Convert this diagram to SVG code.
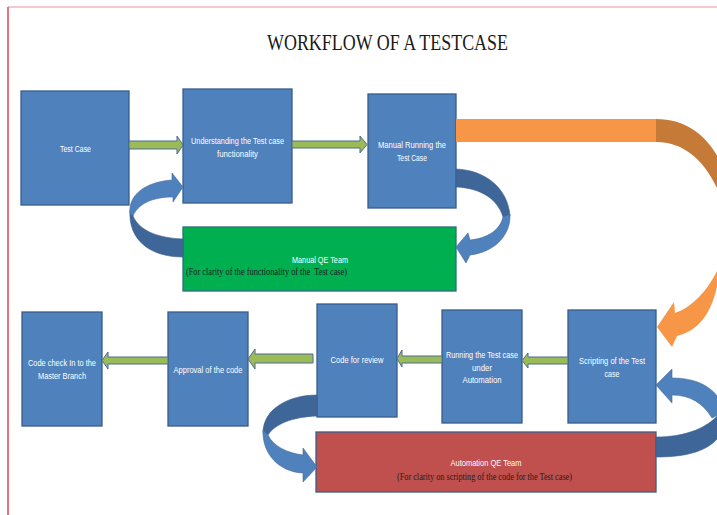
<svg xmlns="http://www.w3.org/2000/svg" width="717" height="515" viewBox="0 0 717 515">
<style>
.box{fill:#4F81BD;stroke:#385D8A;stroke-width:1.3}
.lbl{font-family:"Liberation Sans",Arial,sans-serif;font-size:8.5px;fill:#FFFFFF;text-anchor:middle}
.note{font-family:"Liberation Serif","Times New Roman",serif;font-size:9.5px;fill:#1E1E1E}
.garr{fill:#9BBB59;stroke:#4A6C93;stroke-width:1}
.cl{fill:#4F81BD;stroke:#44699A;stroke-width:0.6}
.cd{fill:#3E6699;stroke:#3A5F8C;stroke-width:0.6}
</style>
<rect x="0" y="0" width="717" height="515" fill="#FFFFFF"/>
<line x1="8" y1="7" x2="717" y2="7" stroke="#E8929E" stroke-width="1.2"/>
<line x1="8" y1="7" x2="8" y2="515" stroke="#E27485" stroke-width="2"/>
<text x="387.5" y="50" font-family="'Liberation Serif','Times New Roman',serif" font-size="24" fill="#1A1A1A" text-anchor="middle" textLength="241" lengthAdjust="spacingAndGlyphs">WORKFLOW OF A TESTCASE</text>

<g id="node-test-case">
<rect class="box" x="21" y="91" width="108" height="114"/>
<text class="lbl" x="75.5" y="152" textLength="31" lengthAdjust="spacingAndGlyphs">Test Case</text>
</g>
<g id="node-understanding">
<rect class="box" x="183" y="89" width="109" height="114"/>
<text class="lbl" x="237.5" y="144" textLength="93" lengthAdjust="spacingAndGlyphs">Understanding the Test case</text>
<text class="lbl" x="237.5" y="157" textLength="41" lengthAdjust="spacingAndGlyphs">functionality</text>
</g>
<g id="node-manual-running">
<rect class="box" x="368" y="94" width="88" height="114"/>
<text class="lbl" x="412" y="148" textLength="68" lengthAdjust="spacingAndGlyphs">Manual Running the</text>
<text class="lbl" x="412" y="161" textLength="30" lengthAdjust="spacingAndGlyphs">Test Case</text>
</g>
<g id="node-manual-qe-team">
<rect x="183" y="227" width="273" height="64" fill="#00B050" stroke="#2F6D84" stroke-width="1.3"/>
<text class="lbl" x="320" y="263" textLength="56" lengthAdjust="spacingAndGlyphs">Manual QE Team</text>
<text class="note" x="186" y="275" textLength="161" lengthAdjust="spacingAndGlyphs" xml:space="preserve">(For clarity of the functionality of the  Test case)</text>
</g>
<g id="node-scripting">
<rect class="box" x="568" y="310" width="88" height="113"/>
<text class="lbl" x="612" y="364" textLength="66" lengthAdjust="spacingAndGlyphs">Scripting of the Test</text>
<text class="lbl" x="612" y="377" textLength="15" lengthAdjust="spacingAndGlyphs">case</text>
</g>
<g id="node-running-automation">
<rect class="box" x="442" y="310" width="80" height="113"/>
<text class="lbl" x="482" y="358" textLength="72" lengthAdjust="spacingAndGlyphs">Running the Test case</text>
<text class="lbl" x="482" y="371" textLength="20" lengthAdjust="spacingAndGlyphs">under</text>
<text class="lbl" x="482" y="383" textLength="39" lengthAdjust="spacingAndGlyphs">Automation</text>
</g>
<g id="node-code-review">
<rect class="box" x="317" y="304" width="80" height="113"/>
<text class="lbl" x="357" y="363" textLength="53" lengthAdjust="spacingAndGlyphs">Code for review</text>
</g>
<g id="node-approval">
<rect class="box" x="168" y="312" width="80" height="114"/>
<text class="lbl" x="208" y="373" textLength="69" lengthAdjust="spacingAndGlyphs">Approval of the code</text>
</g>
<g id="node-code-checkin">
<rect class="box" x="22" y="312" width="80" height="114"/>
<text class="lbl" x="62" y="366" textLength="68" lengthAdjust="spacingAndGlyphs">Code check In to the</text>
<text class="lbl" x="62" y="379" textLength="48" lengthAdjust="spacingAndGlyphs">Master Branch</text>
</g>
<g id="node-automation-qe-team">
<rect x="316" y="432" width="340" height="60" fill="#C0504D" stroke="#385D8A" stroke-width="1.3"/>
<text class="lbl" x="486" y="466" textLength="71" lengthAdjust="spacingAndGlyphs">Automation QE Team</text>
<text class="note" x="484.5" y="480" text-anchor="middle" textLength="175" lengthAdjust="spacingAndGlyphs">(For clarity on scripting of the code for the Test case)</text>
</g>

<g id="connectors">
<!-- green straight arrows, top row -->
<path class="garr" d="M129,141 L177,141 L177,136 L183,145 L177,154 L177,149 L129,149 Z"/>
<path class="garr" d="M292,141 L360,141 L360,136 L367,144.5 L360,153 L360,148 L292,148 Z"/>
<!-- green straight arrows, bottom row (pointing left) -->
<path class="garr" d="M568,357 L528,357 L528,353 L522,360.5 L528,368 L528,364 L568,364 Z"/>
<path class="garr" d="M442,356 L402,356 L402,350 L397,358.5 L402,367 L402,363 L442,363 Z"/>
<path class="garr" d="M313,354 L255,354 L255,349 L248,359 L255,369 L255,363 L313,363 Z"/>
<path class="garr" d="M168,357 L108,357 L108,352 L102,360.5 L108,369 L108,364 L168,364 Z"/>
<!-- orange transfer arrow -->
<rect x="456" y="119" width="200" height="23" fill="#F79646"/>
<path d="M656,119 C690,119 712,140 724,170 L724,200 L718,190 C704,160 684,142 656,142 Z" fill="#C67A37"/>
<path d="M727,240 C722,272 700,305 675,313 L674,302 L657,327 L672,347 L677,336 C700,330 718,312 722,250 Z" fill="#F79646"/>
<!-- curved arrow: Manual QE Team -> Understanding -->
<path class="cd" d="M130,210 C128,240 150,257 183,257 L183,239 C160,238 140,232 133,216 Z"/>
<path class="cl" d="M130,214 C128,195 145,182 172,180 L172,173 L183,187 L173,202 L173,197 C152,197 138,204 133,216 Z"/>
<!-- curved arrow: Manual Running -> Manual QE Team -->
<path class="cd" d="M456,169 C485,170 508,188 510,216 L503,217 C498,200 482,188 456,187 Z"/>
<path class="cl" d="M510,214 C511,235 495,252 470,255 L466,263 L456,247 L468,233 L470,240 C488,238 500,230 503,217 Z"/>
<!-- curved arrow: Code for review -> Automation QE Team -->
<path class="cd" d="M317,395 C290,395 263,408 263,433 L268,435 C275,424 292,417 317,416 Z"/>
<path class="cl" d="M263,430 C262,455 280,472 303,473 L303,482 L317,467 L303,448 L303,455 C287,453 273,446 268,435 Z"/>
<!-- curved arrow: Automation QE Team -> Scripting -->
<path class="cd" d="M656,437 C685,437 710,428 722,410 L722,432 C712,450 690,457 656,457 Z"/>
<path class="cl" d="M724,412 C720,390 700,378 672,378 L672,369 L656,385 L672,403 L672,395 C690,395 703,403 712,418 Z"/>
</g>
</svg>
